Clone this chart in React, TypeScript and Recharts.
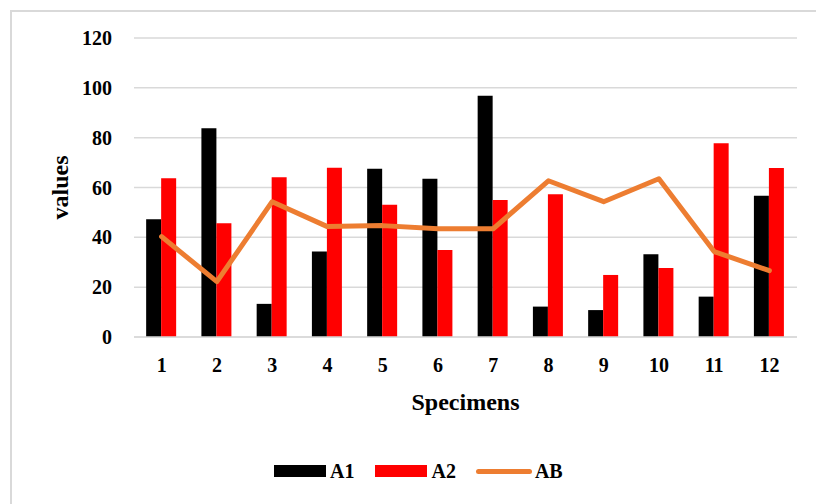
import {
  ComposedChart,
  Bar,
  Line,
  XAxis,
  YAxis,
  CartesianGrid,
  Legend,
  Label,
} from 'recharts';

const SPECIMENS = ['1', '2', '3', '4', '5', '6', '7', '8', '9', '10', '11', '12'];
const A1 = [47.3, 83.8, 13.3, 34.3, 67.5, 63.5, 96.8, 12.2, 10.8, 33.2, 16.2, 56.7];
const A2 = [63.7, 45.7, 64.1, 67.9, 53.1, 34.9, 55.0, 57.3, 24.9, 27.7, 77.8, 67.8];
const AB = [40.3, 22.2, 54.3, 44.3, 44.7, 43.4, 43.4, 62.7, 54.3, 63.5, 34.3, 26.6];
const Y_TICKS = [0, 20, 40, 60, 80, 100, 120];

const data = SPECIMENS.map((name, i) => ({ name, A1: A1[i], A2: A2[i], AB: AB[i] }));

const FONT = 'Liberation Serif, DejaVu Serif, serif';
const GRID = '#d9d9d9';
const ORANGE = '#ED7D31';

const tick = { fontSize: 20, fontWeight: 700, fill: '#000', fontFamily: FONT };

// legend drawn as plain html so the swatches match the original
function ChartLegend() {
  return (
    <div style={s.legend}>
      <span style={{ ...s.swatch, background: '#000' }} />
      <span style={s.legendText}>A1</span>
      <span style={{ ...s.swatch, background: '#FF0000', marginLeft: 21 }} />
      <span style={s.legendText}>A2</span>
      <span style={s.lineSwatch} />
      <span style={s.legendText}>AB</span>
    </div>
  );
}

function YTitle(props: any) {
  const { viewBox } = props;
  const x = viewBox.x + 60;
  const y = viewBox.y + viewBox.height / 2;
  return (
    <text x={x} y={y} transform={`rotate(-90 ${x} ${y})`} textAnchor="middle"
      fontFamily={FONT} fontSize={24} fontWeight={700} fill="#000">
      values
    </text>
  );
}

function XTitle(props: any) {
  const { viewBox } = props;
  return (
    <text x={viewBox.x + viewBox.width / 2} y={viewBox.y + 73} textAnchor="middle"
      fontFamily={FONT} fontSize={24} fontWeight={700} fill="#000">
      Specimens
    </text>
  );
}

export default function App() {
  return (
    <div style={s.page}>
      <style>{'html,body{margin:0;overflow:hidden}'}</style>
      <div style={s.frame} />
      <div style={s.chartBox}>
        <ComposedChart
          width={808}
          height={488}
          data={data}
          barCategoryGap="22%"
          barGap={0}
          margin={{ top: 30, right: 19, left: 0, bottom: 69 }}
        >
          <CartesianGrid stroke={GRID} strokeWidth={1.5} vertical={false} />
          <XAxis
            dataKey="name"
            height={90}
            tick={tick}
            tickLine={false}
            tickSize={0}
            tickMargin={21}
            axisLine={{ stroke: GRID, strokeWidth: 1.5 }}
          >
            <Label content={<XTitle />} />
          </XAxis>
          <YAxis
            width={126}
            domain={[0, 120]}
            ticks={Y_TICKS}
            tick={tick}
            tickLine={false}
            axisLine={false}
            tickSize={0}
            tickMargin={22}
          >
            <Label content={<YTitle />} />
          </YAxis>
          <Bar dataKey="A1" fill="#000000" isAnimationActive={false} />
          <Bar dataKey="A2" fill="#FF0000" isAnimationActive={false} />
          <Line
            dataKey="AB"
            type="linear"
            stroke={ORANGE}
            strokeWidth={5}
            strokeLinecap="round"
            strokeLinejoin="round"
            dot={false}
            activeDot={false}
            isAnimationActive={false}
          />
          <Legend
            verticalAlign="middle"
            content={<ChartLegend />}
            wrapperStyle={{ top: 451, left: 266, width: 320, height: 24 }}
          />
        </ComposedChart>
      </div>
    </div>
  );
}

const s: Record<string, React.CSSProperties> = {
  page: {
    position: 'relative',
    width: 816,
    height: 504,
    overflow: 'hidden',
    background: '#fff',
    fontFamily: FONT,
  },
  frame: {
    position: 'absolute',
    left: 10,
    top: 10,
    width: 1000,
    height: 1000,
    borderLeft: `2px solid ${GRID}`,
    borderTop: `2px solid ${GRID}`,
  },
  chartBox: {
    position: 'absolute',
    left: 8,
    top: 8,
  },
  legend: {
    display: 'flex',
    alignItems: 'center',
    height: 24,
    fontFamily: FONT,
  },
  swatch: {
    display: 'inline-block',
    width: 52,
    height: 12,
    marginRight: 4,
  },
  legendText: {
    fontSize: 20,
    fontWeight: 700,
    color: '#000',
    lineHeight: '24px',
  },
  lineSwatch: {
    display: 'inline-block',
    width: 56,
    height: 5,
    borderRadius: 3,
    background: ORANGE,
    marginLeft: 20,
    marginRight: 3,
  },
};
